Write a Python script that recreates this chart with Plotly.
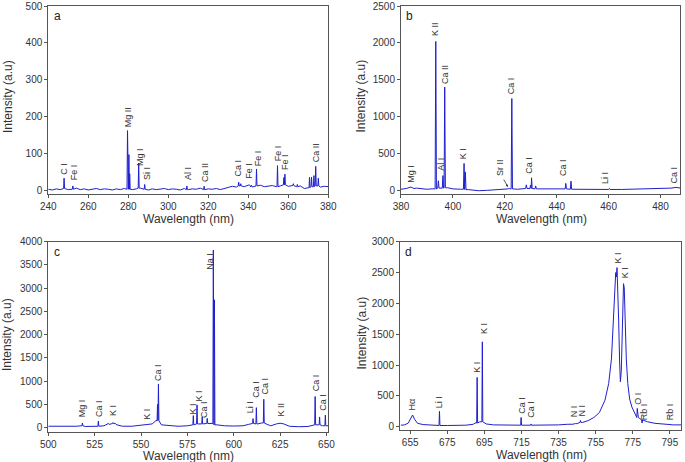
"""
LIBS emission spectra, four spectral windows (a-d)
"""

import plotly.graph_objects as go

LINE_COLOR = "#1f1fcf"
FONT = "Liberation Sans, Arial, sans-serif"

# === panel a: 240-380 nm ===
a_base_x = list(range(240, 382, 2))
a_base_y = [3, 1, 4, 2, 5, 2, 3, 6, 2, 4, 1, 3, 5, 2, 4, 3, 1, 4, 2, 5,
            3, 2, 4, 6, 3, 1, 4, 2, 3, 5, 2, 4, 3, 1, 5, 2, 4, 3, 6, 2,
            4, 3, 5, 2, 4,
            8, 11, 9, 12, 10, 13, 9, 12, 14, 10, 11, 13, 10, 12, 15, 11,
            13, 10, 12, 5, 7, 10, 12, 9, 11, 10]
a_peak_x = [247.9, 252.3, 279.6, 280.3, 280.7, 285.2, 288.2, 309.3, 317.9,
            335.2, 336.2, 340.5, 341.5, 344.1, 354.6, 357.8, 358.3, 362.5,
            364.5, 370.6, 371.6, 372.8, 373.7, 375.0]
a_peak_y = [33, 12, 162, 97, 45, 74, 16, 12, 11, 22, 18, 15, 14, 58, 67,
            35, 44, 18, 16, 35, 36, 40, 65, 33]
a_lab_text = ["C I", "Fe I", "Mg II", "Mg I", "Si I", "Al I", "Ca II", "Ca I",
              "Fe I", "Fe I", "Fe I", "Fe I", "Ca II"]
a_lab_x = [248, 252.8, 279.7, 286.2, 289.0, 309.5, 318.0, 335.1, 340.6,
           344.8, 354.6, 358.4, 373.9]
a_lab_y = [38, 22, 165, 60, 22, 22, 17, 32, 25, 60, 72, 50, 70]

# === panel b: 380-488 nm ===
b_base_x = [380, 382, 383.8, 385, 386, 388, 390, 392, 395, 398, 400, 403, 406,
            408, 410, 413, 416, 419, 421, 425, 428, 433, 436, 440, 443, 447,
            450, 455, 460, 465, 470, 475, 480, 484, 486, 488]
b_base_y = [15, 25, 45, 25, 30, 20, 15, 20, 30, 35, 20, 15, 10, 5, -5, 0, 5,
            10, 20, 15, 25, 20, 15, 10, 20, 15, 10, 10, 12, 12, 15, 20, 25,
            30, 40, 30]
b_peak_x = [393.4, 394.4, 396.15, 396.85, 404.3, 404.8, 421.6, 422.7, 428.3,
            429.9, 430.3, 431.9, 443.5, 445.5, 460.3]
b_peak_y = [2020, 130, 200, 1400, 365, 250, 30, 1245, 75, 70, 170, 60, 95,
            125, 25]
b_lab_text = ["Mg I", "K II", "Al I", "Ca II", "K I", "Sr II", "Ca I", "Ca I",
              "Ca I", "Li I", "Ca I"]
b_lab_x = [384.0, 393.3, 395.3, 396.9, 404.2, 418.4, 422.4, 429.4, 442.7,
           458.6, 485.2]
b_lab_y = [80, 2060, 240, 1420, 400, 170, 1270, 195, 170, 60, 60]

# === panel c: 500-651 nm ===
c_base_x = [500, 505, 510, 515, 518, 520, 525, 530, 533, 535, 537, 540, 545,
            550, 553, 556, 558, 561, 565, 570, 575, 577, 582, 587, 591, 595,
            600, 605, 608, 610, 613, 615, 618, 620, 623, 625, 627, 630, 635,
            640, 645, 648, 651]
c_base_y = [30, 25, 20, 30, 40, 25, 30, 40, 70, 90, 60, 30, 30, 60, 70, 80,
            150, 60, 40, 30, 40, 60, 80, 90, 60, 40, 35, 40, 70, 90, 80, 100,
            70, 40, 80, 95, 80, 30, 20, 25, 60, 40, 40]
c_peak_x = [518.4, 527.0, 532.5, 534.9, 535.8, 553.0, 558.9, 559.4, 578.2,
            580.2, 583.0, 585.7, 588.99, 589.59, 610.4, 612.2, 616.2, 643.9,
            646.3, 649.4]
c_peak_y = [100, 140, 90, 110, 100, 70, 500, 940, 260, 490, 230, 200, 3820,
            2750, 195, 430, 610, 670, 230, 270]
c_lab_text = ["Mg I", "Ca I", "K I", "K I", "Ca I", "K I", "K I", "Ca I",
              "Na I", "Li I", "Ca I", "Ca I", "K II", "Ca I", "Ca I"]
c_lab_x = [518.2, 527.4, 534.8, 553.1, 559.1, 577.8, 581.0, 584.3, 587.4,
           608.8, 612.2, 617.0, 625.5, 644.1, 648.2]
c_lab_y = [180, 180, 215, 130, 970, 240, 520, 165, 3350, 270, 595, 665, 200,
           740, 310]

# === panel d: 650-801 nm ===
d_base_x = [650, 652, 654, 655.2, 656.3, 657.4, 659, 662, 666, 670, 675, 680,
            685, 689, 690, 692.5, 696, 700, 705, 710, 720, 730, 735, 740, 745,
            748, 751, 754, 757, 760, 762, 763.5, 764.5, 765.3, 765.8, 766.2,
            766.5, 766.9, 767.4, 767.9, 768.3, 768.8, 769.3, 769.7, 770.0,
            770.4, 770.9, 771.5, 772.3, 773.3, 774.5, 776, 778, 780, 783, 787,
            792, 797, 801]
d_base_y = [25, 30, 60, 130, 190, 120, 55, 35, 25, 20, 20, 20, 25, 40, 60,
            80, 45, 30, 25, 25, 25, 25, 30, 40, 50, 70, 100, 150, 230, 430,
            700, 1100, 1600, 2200, 2500, 2430, 2580, 2300, 1700, 1050, 730,
            900, 1600, 2200, 2320, 2250, 1700, 1100, 700, 450, 320, 230, 150,
            110, 80, 55, 40, 30, 30]
d_peak_x = [670.8, 691.1, 693.9, 714.8, 720.2, 742.4, 744.2, 746.8, 777.4,
            780.0, 794.8]
d_peak_y = [250, 800, 1377, 150, 45, 35, 60, 100, 297, 60, 30]
d_lab_text = ["H\u03b1", "Li I", "K I", "K I", "Ca I", "Ca I", "N I", "N I",
              "K I", "K I", "O I", "Rb I", "Rb I"]
d_lab_x = [655.9, 670.6, 691.0, 694.5, 715.1, 720.3, 743.3, 747.4, 767.2,
           771.2, 778.0, 781.0, 795.0]
d_lab_y = [230, 270, 850, 1470, 180, 110, 120, 125, 2610, 2380, 330, 80, 80]


def spectrum(base_x, base_y, peak_x, peak_y, hw=0.25):
    """Baseline points plus narrow emission lines, sorted by wavelength"""
    pts = [(x, y) for x, y in zip(base_x, base_y)
           if all(abs(x - p) > hw for p in peak_x)]
    for p, h in zip(peak_x, peak_y):
        k = min(range(len(base_x)), key=lambda i: abs(base_x[i] - p))
        foot = base_y[k]
        pts += [(p - hw, foot), (p, h), (p + hw, foot)]
    pts.sort()
    return [p[0] for p in pts], [p[1] for p in pts]


panels = [
    (a_base_x, a_base_y, a_peak_x, a_peak_y, a_lab_text, a_lab_x, a_lab_y),
    (b_base_x, b_base_y, b_peak_x, b_peak_y, b_lab_text, b_lab_x, b_lab_y),
    (c_base_x, c_base_y, c_peak_x, c_peak_y, c_lab_text, c_lab_x, c_lab_y),
    (d_base_x, d_base_y, d_peak_x, d_peak_y, d_lab_text, d_lab_x, d_lab_y),
]

fig = go.Figure()
annotations = []
for n, (bx, by, px_, py_, lt, lx, ly) in enumerate(panels, 1):
    sx = "x" if n == 1 else f"x{n}"
    sy = "y" if n == 1 else f"y{n}"
    xs, ys = spectrum(bx, by, px_, py_)
    fig.add_trace(go.Scatter(x=xs, y=ys, mode="lines", xaxis=sx, yaxis=sy,
                             line=dict(color=LINE_COLOR, width=1),
                             showlegend=False, hoverinfo="skip"))
    for t, x, y in zip(lt, lx, ly):
        annotations.append(dict(text=t, x=x, y=y, xref=sx, yref=sy,
                                textangle=-90, xanchor="center",
                                yanchor="bottom", showarrow=False,
                                font=dict(size=9, color="#333")))
    # panel letter
    annotations.append(dict(text="abcd"[n - 1], x=0.032, y=0.945,
                            xref=f"{sx} domain", yref=f"{sy} domain",
                            xanchor="center", yanchor="middle",
                            showarrow=False,
                            font=dict(size=12, color="#222")))

# Sr II pointer
annotations.append(dict(text="", x=421.2, y=45, xref="x2", yref="y2",
                        showarrow=True, arrowhead=2, arrowsize=0.6,
                        arrowwidth=0.8, arrowcolor="#333", ax=-5, ay=-9))

W, H = 685, 462
# axis titles placed in pixels of the reference
for txt, px, py, ang in [
    ("Intensity (a.u)", 8, 97, -90), ("Intensity (a.u)", 360.5, 96, -90),
    ("Intensity (a.u)", 7, 335, -90), ("Intensity (a.u)", 361.5, 333, -90),
    ("Wavelength (nm)", 188, 219, 0), ("Wavelength (nm)", 541.5, 219, 0),
    ("Wavelength (nm)", 188, 455.5, 0), ("Wavelength (nm)", 541.5, 455, 0),
]:
    annotations.append(dict(text=txt, x=px / W, y=1 - py / H, xref="paper",
                            yref="paper", textangle=ang, xanchor="center",
                            yanchor="middle", showarrow=False,
                            font=dict(size=12, color="#333")))


def axis(rng, dtick, domain, anchor, tick0=None):
    d = dict(range=rng, dtick=dtick, domain=domain, anchor=anchor,
             automargin=False,
             showline=True, mirror=True, linecolor="#555", linewidth=1,
             ticks="outside", ticklen=3, tickcolor="#555", showgrid=False,
             zeroline=False, tickfont=dict(size=10, color="#333"))
    if tick0 is not None:
        d["tick0"] = tick0
    return d


top_y = [0.580, 0.987]
fig.update_layout(
    width=W, height=H,
    margin=dict(l=0, r=0, t=0, b=0, autoexpand=False),
    paper_bgcolor="white", plot_bgcolor="white",
    font=dict(family=FONT, color="#333"),
    xaxis=axis([240, 380], 20, [0.0705, 0.4793], "y"),
    yaxis=axis([-10, 500], 100, top_y, "x"),
    xaxis2=axis([380, 487.5], 20, [0.5854, 0.9927], "y2"),
    yaxis2=axis([-50, 2500], 500, top_y, "x2"),
    xaxis3=axis([500, 651], 25, [0.0705, 0.4793], "y3"),
    yaxis3=axis([-100, 4000], 500, [0.0643, 0.4768], "x3"),
    xaxis4=axis([649.5, 801], 20, [0.5839, 0.9942], "y4", tick0=655),
    yaxis4=axis([-55, 3000], 500, [0.0690, 0.4768], "x4"),
    annotations=annotations,
)

# page body has a default 8px margin; drop it so the figure fills the window
fig.write_html("out.html", config={"displayModeBar": False},
               post_script="document.body.style.margin='0';"
                           "document.body.style.overflow='hidden';")
